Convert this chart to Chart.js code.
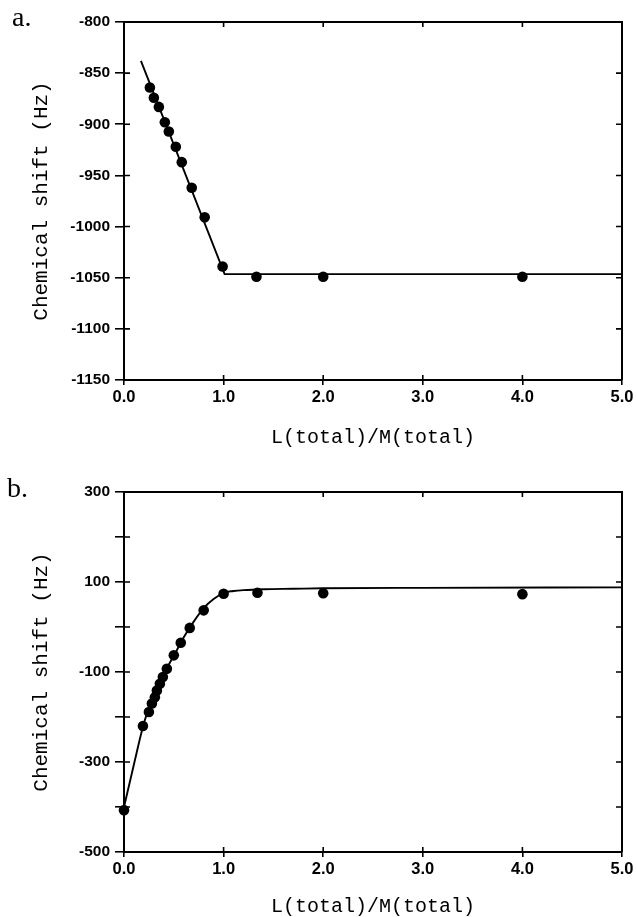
<!DOCTYPE html>
<html><head><meta charset="utf-8">
<script src="https://cdn.jsdelivr.net/npm/chart.js@4.4.1/dist/chart.umd.min.js"></script>
<style>
html,body{margin:0;padding:0;background:#fff;}
body{width:637px;height:917px;position:relative;overflow:hidden;}
.wrap{position:absolute;left:0;width:637px;}
canvas{display:block;}
.lab{position:absolute;font-family:"Liberation Serif","Times New Roman",serif;font-size:28px;color:#000;line-height:1;}
</style></head><body>
<div class="wrap" style="top:0;height:460px;"><canvas id="ca" width="637" height="460"></canvas></div>
<div class="wrap" style="top:460px;height:457px;"><canvas id="cb" width="637" height="457"></canvas></div>
<div class="lab" style="left:12px;top:3px;">a.</div>
<div class="lab" style="left:7px;top:474px;">b.</div>
<script>
// ---- Panel a data ----
const ratioA = [0.26,0.30,0.35,0.41,0.45,0.52,0.58,0.68,0.81,0.99,1.33,2.0,4.0];
const shiftA = [-864,-874,-883,-898,-907,-922,-937,-962,-991,-1039,-1049,-1049,-1049];
const fitRatioA = [0.17,1.01,5.0];
const fitShiftA = [-838,-1046.5,-1046.5];
const yTicksA = [-800,-850,-900,-950,-1000,-1050,-1100,-1150];

// ---- Panel b data ----
const ratioB = [0.0,0.19,0.25,0.28,0.31,0.33,0.36,0.39,0.43,0.50,0.57,0.66,0.80,1.00,1.34,2.0,4.0];
const shiftB = [-407,-220,-189,-170,-156,-141,-126,-111,-93,-63,-35,-2,37,74,76,75,73];
const fitRatioB = [0.0,0.1,0.2,0.3,0.4,0.5,0.6,0.7,0.8,0.9,1.0,1.1,1.2,1.4,1.7,2.0,3.0,5.0];
const fitShiftB = [-400,-305,-214,-152,-104,-64,-23,12,42,62,76,80,82,84,85,86,87,88];
const yTicksB = [300,100,-100,-300,-500];

const xTicks = [0,1,2,3,4,5];
const xTitle = 'L(total)/M(total)';
const yTitle = 'Chemical shift (Hz)';

function pts(xs, ys){ return xs.map((v,i)=>({x:v,y:ys[i]})); }

const framePlugin = {
  id:'frame',
  afterDraw(chart){
    const {ctx, chartArea:a, scales:{x,y}} = chart;
    ctx.save();
    ctx.strokeStyle='#000';
    ctx.lineWidth=2;
    ctx.beginPath();
    ctx.moveTo(a.left,a.top); ctx.lineTo(a.right,a.top); ctx.lineTo(a.right,a.bottom);
    ctx.stroke();
    ctx.lineWidth=1.6;
    ctx.beginPath();
    x.ticks.forEach(t=>{
      const px=x.getPixelForValue(t.value);
      ctx.moveTo(px,a.bottom); ctx.lineTo(px,a.bottom-5);
      ctx.moveTo(px,a.top); ctx.lineTo(px,a.top+5);
    });
    y.ticks.forEach(t=>{
      const py=y.getPixelForValue(t.value);
      ctx.moveTo(a.left,py); ctx.lineTo(a.left+6,py);
      ctx.moveTo(a.right,py); ctx.lineTo(a.right-6,py);
    });
    ctx.stroke();
    ctx.restore();
  }
};

function makeChart(id, cfg){
  const canvas = document.getElementById(id);
  const H = canvas.height;
  return new Chart(canvas, {
    type:'scatter',
    data:{datasets:[
      {data:pts(cfg.fx,cfg.fy), showLine:true, borderColor:'#000', borderWidth:1.9, pointRadius:0,
       tension:cfg.mono?0.4:0, cubicInterpolationMode:cfg.mono?'monotone':'default', clip:false, order:2},
      {data:pts(cfg.px,cfg.py), showLine:false, backgroundColor:'#000', borderColor:'#000',
       pointRadius:5.3, pointBorderWidth:0, clip:false, order:1}
    ]},
    options:{
      responsive:false, animation:false, devicePixelRatio:1,
      layout:{padding:{top:cfg.top,right:15,left:0,bottom:0}},
      plugins:{legend:{display:false},tooltip:{enabled:false}},
      scales:{
        x:{type:'linear',min:0,max:5,
          afterBuildTicks(s){ s.ticks = xTicks.map(v=>({value:v})); },
          afterFit(s){ s.height = H - cfg.bottom; },
          ticks:{color:'#000',padding:3,font:{family:'"Liberation Sans", Arial, sans-serif',size:16.5,weight:'bold'},
            callback:v=>Number(v).toFixed(1)},
          grid:{drawOnChartArea:false,drawTicks:true,tickLength:5,color:'#000',lineWidth:1.6},
          border:{display:true,color:'#000',width:2},
          title:{display:true,text:xTitle,color:'#000',
            font:{family:'"Liberation Mono", "DejaVu Sans Mono", monospace',size:20,lineHeight:1},
            padding:{top:0,bottom:cfg.xtp}}
        },
        y:{type:'linear',min:cfg.ymin,max:cfg.ymax,
          afterBuildTicks(s){ const a=[]; for(let v=cfg.ymax; v>=cfg.ymin; v-=cfg.step) a.push({value:v}); s.ticks=a; },
          afterFit(s){ s.width = 124; },
          ticks:{color:'#000',padding:5,autoSkip:false,font:{family:'"Liberation Sans", Arial, sans-serif',size:15.5,weight:'bold'},
            callback:v=> cfg.labels.includes(v) ? String(v) : ''},
          grid:{drawOnChartArea:false,drawTicks:true,tickLength:9,color:'#000',lineWidth:1.6},
          border:{display:true,color:'#000',width:2},
          title:{display:true,text:yTitle,color:'#000',
            font:{family:'"Liberation Mono", "DejaVu Sans Mono", monospace',size:21,lineHeight:1},
            padding:{top:31,bottom:0}}
        }
      }
    },
    plugins:[framePlugin]
  });
}

makeChart('ca',{px:ratioA,py:shiftA,fx:fitRatioA,fy:fitShiftA,ymin:-1150,ymax:-800,step:50,labels:yTicksA,
  top:22,bottom:380,xtp:12,mono:false});
makeChart('cb',{px:ratioB,py:shiftB,fx:fitRatioB,fy:fitShiftB,ymin:-500,ymax:300,step:100,labels:yTicksB,
  top:32,bottom:392,xtp:0,mono:true});
</script>
</body></html>
